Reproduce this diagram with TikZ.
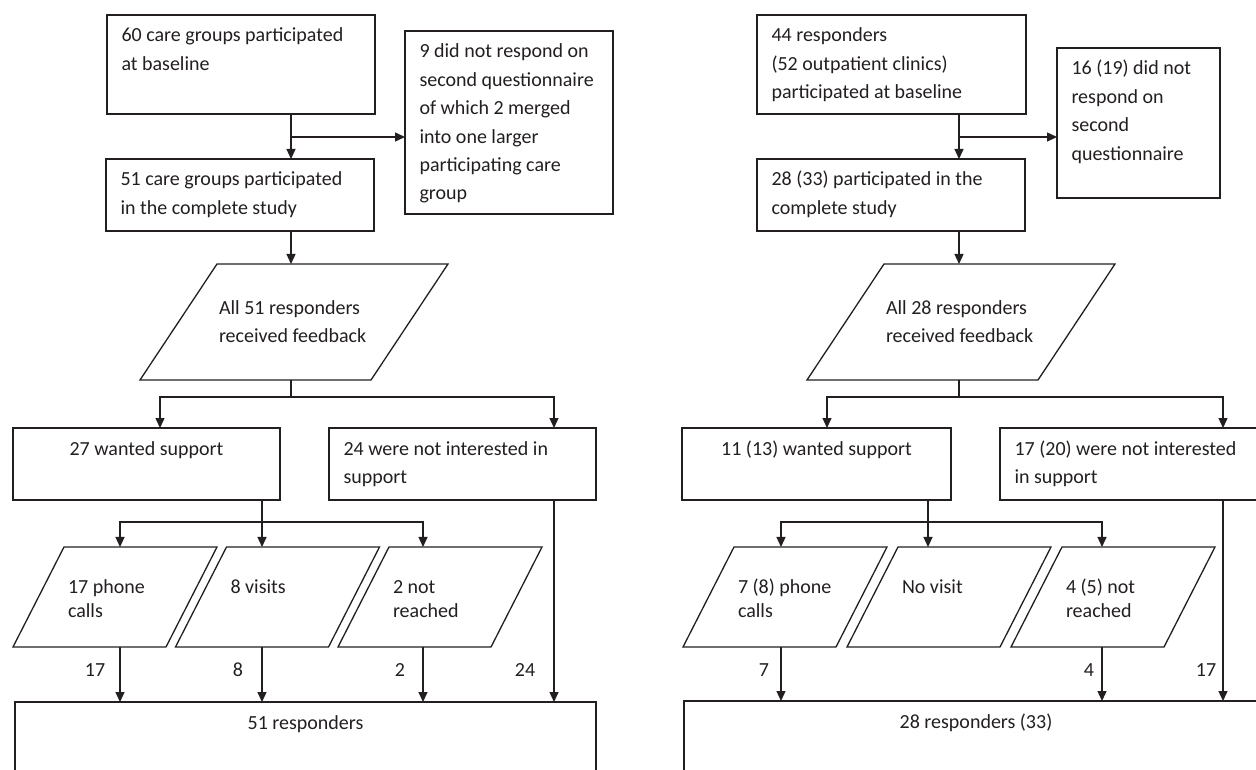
\documentclass[tikz,border=0pt]{standalone}
\usepackage{fontspec}
\setmainfont{Carlito}
\usetikzlibrary{shapes.geometric,arrows.meta,calc}
\definecolor{lc}{RGB}{35,31,32}
\newcommand\rtx[4]{\parbox[c][#2pt][t]{#1pt}{#3\rule{0pt}{27pt}#4}}
\newcommand\lftx{\raggedright\leftskip=14.5pt\relax}
\newcommand\ptxt[5]{\parbox[c][#2pt][t]{#1pt}{\raggedright\leftskip=#3pt\relax\rule{0pt}{#4pt}#5}}
\begin{document}
\begin{tikzpicture}[x=1pt,y=-1pt,
  base/.style={draw=lc, line width=1.3pt, inner sep=0pt, outer sep=0pt, text=lc},
  rect/.style={base, font={\fontsize{20}{28.4}\selectfont}, rectangle, anchor=north west},
  bigpara/.style={base, font={\fontsize{20}{28.4}\selectfont}, trapezium, trapezium left angle=56.43, trapezium right angle=123.57, trapezium stretches body, minimum width=308pt, minimum height=116pt},
  para/.style={base, font={\fontsize{20}{24.5}\selectfont}, trapezium, trapezium left angle=62.98, trapezium right angle=117.02, trapezium stretches body, minimum width=204pt, minimum height=100pt},
  arr/.style={draw=lc, line width=1.3pt, -{Triangle[width=9pt,length=10pt]}},
  ln/.style={draw=lc, line width=1.3pt},
  lbl/.style={text=lc, font={\fontsize{20}{24}\selectfont}, inner sep=0pt, anchor=base}]
\useasboundingbox (0,0) rectangle (1256,770);
\clip (0,0) rectangle (1256,770);

% ---------- left panel ----------
\node[rect] (A) at (107,15) {\rtx{268}{99}{\lftx}{60 care groups participated\\at baseline}};
\node[rect] (B) at (405,31) {\rtx{208}{183}{\lftx}{9 did not respond on\\second questionnaire\\of which 2 merged\\into one larger\\participating care\\group}};
\node[rect] (C) at (106,159) {\rtx{268}{72}{\lftx}{51 care groups participated\\in the complete study}};
\node[bigpara] (P) at (294,322) {\ptxt{154}{116}{2}{50}{All 51 responders\\received feedback}};
\node[rect] (D) at (13,428) {\rtx{267}{72}{\centering}{27 wanted support}};
\node[rect] (E) at (329,428) {\rtx{267}{72}{\lftx}{24 were not interested in\\support}};
\node[para] (Q1) at (115,597) {\ptxt{102}{100}{4}{46}{17 phone\\calls}};
\node[para] (Q2) at (277.5,597) {\ptxt{102}{100}{4}{46}{8 visits}};
\node[para] (Q3) at (440,597) {\ptxt{102}{100}{4}{46}{2 not\\reached}};
\node[rect] (R) at (15,702) {\rtx{581}{120}{\centering}{51 responders}};

\coordinate (xa) at (291,0);
\coordinate (b1) at (291,137);
\coordinate (j1) at (291,397);
\coordinate (dx) at (160,0);
\coordinate (ex) at (554,0);
\coordinate (j2) at (262,522);
\coordinate (c17) at (120,0);
\coordinate (c2) at (423,0);

\draw[arr] (A.south -| xa) -- (C.north -| xa);
\draw[arr] (b1) -- (b1 -| B.west);
\draw[arr] (C.south -| xa) -- (P.north -| xa);
\draw[ln] (P.south -| xa) -- (j1);
\draw[arr] (j1) -| (D.north -| dx);
\draw[arr] (j1) -| (E.north -| ex);
\draw[ln] (D.south -| j2) -- (j2);
\draw[arr] (j2) -- (Q2.north -| j2);
\draw[arr] (j2) -| (Q1.north -| c17);
\draw[arr] (j2) -| (Q3.north -| c2);
\draw[arr] (Q1.south -| c17) -- (R.north -| c17);
\draw[arr] (Q2.south -| j2) -- (R.north -| j2);
\draw[arr] (Q3.south -| c2) -- (R.north -| c2);
\draw[arr] (E.south -| ex) -- (R.north -| ex);
\path (R.north -| c17) ++(-25,-26) node[lbl] (n17) {17};
\path (R.north -| j2) ++(-24,-26) node[lbl] (n8) {8};
\path (R.north -| c2) ++(-23,-26) node[lbl] (n2) {2};
\path (R.north -| ex) ++(-29,-26) node[lbl] (n24) {24};

% ---------- right panel ----------
\node[rect] (A2) at (757,15) {\rtx{269}{99}{\lftx}{44 responders\\(52 outpatient clinics)\\participated at baseline}};
\node[rect] (B2) at (1057,48) {\rtx{163}{150}{\lftx}{16 (19) did not\\respond on\\second\\questionnaire}};
\node[rect] (C2) at (757,159) {\rtx{268}{72}{\lftx}{28 (33) participated in the\\complete study}};
\node[bigpara] (P2) at (961,322) {\ptxt{154}{116}{2}{50}{All 28 responders\\received feedback}};
\node[rect] (D2) at (682,428) {\rtx{269}{72}{\centering}{11 (13) wanted support}};
\node[rect] (E2) at (1000,428) {\rtx{267}{72}{\lftx}{17 (20) were not interested\\in support}};
\node[para] (Q4) at (785,597) {\ptxt{102}{100}{4}{46}{7 (8) phone\\calls}};
\node[para] (Q5) at (949,597) {\ptxt{102}{100}{4}{46}{No visit}};
\node[para] (Q6) at (1113,597) {\ptxt{102}{100}{4}{46}{4 (5) not\\reached}};
\node[rect] (R2) at (684,701) {\rtx{584}{120}{\centering}{28 responders (33)}};

\coordinate (xb) at (959,0);
\coordinate (b2) at (959,137);
\coordinate (j3) at (959,397);
\coordinate (dx2) at (827,0);
\coordinate (ex2) at (1223,0);
\coordinate (j4) at (928,522);
\coordinate (c7) at (781,0);
\coordinate (c4) at (1102,0);

\draw[arr] (A2.south -| xb) -- (C2.north -| xb);
\draw[arr] (b2) -- (b2 -| B2.west);
\draw[arr] (C2.south -| xb) -- (P2.north -| xb);
\draw[ln] (P2.south -| xb) -- (j3);
\draw[arr] (j3) -| (D2.north -| dx2);
\draw[arr] (j3) -| (E2.north -| ex2);
\draw[ln] (D2.south -| j4) -- (j4);
\draw[arr] (j4) -- (Q5.north -| j4);
\draw[arr] (j4) -| (Q4.north -| c7);
\draw[arr] (j4) -| (Q6.north -| c4);
\draw[arr] (Q4.south -| c7) -- (R2.north -| c7);
\draw[arr] (Q6.south -| c4) -- (R2.north -| c4);
\draw[arr] (E2.south -| ex2) -- (R2.north -| ex2);
\path (R2.north -| c7) ++(-17,-25) node[lbl] (n7) {7};
\path (R2.north -| c4) ++(-13,-25) node[lbl] (n4) {4};
\path (R2.north -| ex2) ++(-17,-25) node[lbl] (n17b) {17};
\end{tikzpicture}
\end{document}
